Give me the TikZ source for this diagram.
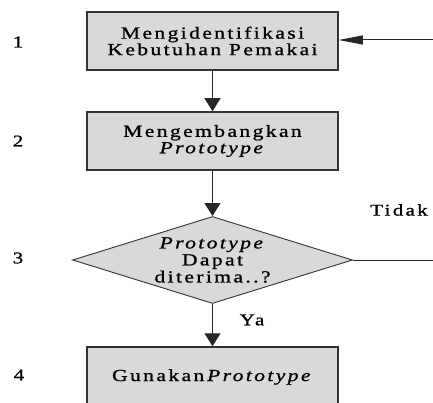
\documentclass[tikz,border=0pt]{standalone}
\usepackage{fontspec}
\setmainfont{Liberation Serif}[FakeStretch=1.27,LetterSpace=14,FakeBold=1]
\usetikzlibrary{arrows.meta,shapes.geometric}
\newcommand{\proto}{\textit{Prototype}}
\begin{document}
\begin{tikzpicture}[x=1pt,y=-1pt,
  box/.style={draw=black!80, line width=1.5pt, fill=gray!30, minimum width=251pt, minimum height=58pt, inner sep=0pt, align=center, font=\fontsize{17}{16.5}\selectfont},
  decision/.style={diamond, draw=black!80, line width=0.9pt, fill=gray!30, aspect=3.3, minimum width=280pt, minimum height=87pt, inner sep=0pt, align=center, font=\fontsize{17}{17}\selectfont},
  lbl/.style={inner sep=0pt, font=\fontsize{16.5}{16}\selectfont},
  conn/.style={draw=black!85, line width=1pt},
  arr/.style={conn, -{Triangle[length=13pt,width=16pt]}},
  arrh/.style={conn, -{Triangle[length=24pt,width=9pt]}}
]
\useasboundingbox (0,0) rectangle (433,403);

\node[box] (b1) at (212.5,41) {Mengidentifikasi\\Kebutuhan Pemakai};
\node[box] (b2) at (212.5,141) {Mengembangkan\\\proto};
\node[decision] (d) at (212.5,260) {\proto\\Dapat\\diterima..?};
\node[box, minimum height=60pt] (b4) at (212.5,377) {Gunakan\,\proto};

\node[lbl] (n1) at (18,42) {1};
\node[lbl] (n2) at (18,141) {2};
\node[lbl] (n3) at (18,258) {3};
\node[lbl] (n4) at (19,375) {4};

\node[lbl] (tidak) at (399,210) {Tidak};
\node[lbl] (ya) at (252,320) {Ya};

\coordinate (inR) at (433,40);
\coordinate (outR) at (433,260);

\draw[arr] (b1) -- (b2);
\draw[arr] (b2) -- (d);
\draw[arr] (d) -- (b4);
\draw[arrh] (inR) -- (b1.east |- inR);
\draw[conn] (d.east) -- (outR);
\end{tikzpicture}
\end{document}
